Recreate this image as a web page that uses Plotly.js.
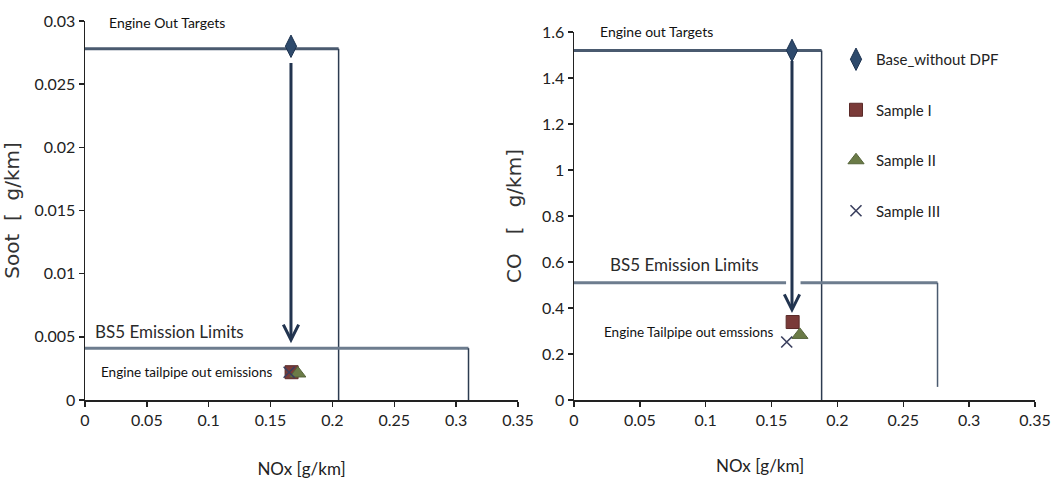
<!DOCTYPE html>
<html>
<head>
<meta charset="utf-8">
<script src="https://cdn.plot.ly/plotly-3.0.1.min.js"></script>
<style>html,body{margin:0;padding:0;background:#fff;}#chart{width:1051px;height:488px;}</style>
</head>
<body>
<div id="chart"></div>
<script>
// ---- data ----
const samples = ['Base_without DPF', 'Sample I', 'Sample II', 'Sample III'];
const sootNox = [0.1665, 0.167, 0.172, 0.165];
const sootVal = [0.0280, 0.0022, 0.0021, 0.0022];
const coNox = [0.1655, 0.166, 0.1715, 0.1615];
const coVal = [1.52, 0.339, 0.283, 0.252];

const sootTargetX = [0, 0.205, 0.205];
const sootTargetY = [0.0278, 0.0278, 0];
const sootLimitX = [0, 0.31, 0.31];
const sootLimitY = [0.0041, 0.0041, 0];
const coTargetX = [0, 0.188, 0.188];
const coTargetY = [1.52, 1.52, 0];
const coLimitX = [0, 0.161, null, 0.172, 0.276, 0.276];
const coLimitY = [0.51, 0.51, null, 0.51, 0.51, 0.057];

const sootArrowY = [0.0268, 0.0045];
const coArrowY = [1.48, 0.378];

const xTicks = [0, 0.05, 0.1, 0.15, 0.2, 0.25, 0.3, 0.35];
const sootTicks = [0, 0.005, 0.01, 0.015, 0.02, 0.025, 0.03];
const coTicks = [0, 0.2, 0.4, 0.6, 0.8, 1, 1.2, 1.4, 1.6];

// ---- styles ----
const FONT = 'Lato, "Liberation Sans", sans-serif';
const TFONT = '"DejaVu Sans", sans-serif';
const markerStyles = [
  {symbol: 'diamond-tall', size: 16, color: '#2e4a6c', line: {color: '#1d3350', width: 1}},
  {symbol: 'square', size: 13, color: '#7a3a38', line: {color: '#5a2a28', width: 1}},
  {symbol: 'triangle-up', size: 14, color: '#6b7b47', line: {color: '#55643a', width: 1}},
  {symbol: 'x-thin-open', size: 11, color: '#3a3f5e', line: {color: '#3a3f5e', width: 1.6}}
];

function lineTrace(x, y, xa, ya, color, width) {
  return {x: x, y: y, xaxis: xa, yaxis: ya, mode: 'lines', type: 'scatter',
    line: {color: color, width: width}, showlegend: false, hoverinfo: 'skip', connectgaps: false};
}

const traces = [];
// left chart lines
traces.push(lineTrace(sootTargetX.slice(0, 2), sootTargetY.slice(0, 2), 'x', 'y', '#4a5a6f', 3));
traces.push(lineTrace(sootTargetX.slice(1), sootTargetY.slice(1), 'x', 'y', '#2c3b50', 1.5));
traces.push(lineTrace(sootLimitX.slice(0, 2), sootLimitY.slice(0, 2), 'x', 'y', '#6d7c8e', 3));
traces.push(lineTrace(sootLimitX.slice(1), sootLimitY.slice(1), 'x', 'y', '#2c3b50', 1.5));
// right chart lines
traces.push(lineTrace(coTargetX.slice(0, 2), coTargetY.slice(0, 2), 'x2', 'y2', '#4a5a6f', 3));
traces.push(lineTrace(coTargetX.slice(1), coTargetY.slice(1), 'x2', 'y2', '#2c3b50', 1.5));
traces.push(lineTrace(coLimitX.slice(0, 5), coLimitY.slice(0, 5), 'x2', 'y2', '#6d7c8e', 3));
traces.push(lineTrace(coLimitX.slice(4), coLimitY.slice(4), 'x2', 'y2', '#4a5a6f', 1.5));

// markers
samples.forEach((name, i) => {
  const m = markerStyles[i];
  traces.push({x: [sootNox[i]], y: [sootVal[i]], xaxis: 'x', yaxis: 'y', type: 'scatter', mode: 'markers',
    name: name, legendgroup: 'g' + i, showlegend: false,
    marker: {symbol: m.symbol, size: m.size, color: m.color, line: m.line}});
  traces.push({x: [coNox[i]], y: [coVal[i]], xaxis: 'x2', yaxis: 'y2', type: 'scatter', mode: 'markers',
    name: name, legendgroup: 'g' + i, showlegend: true,
    marker: {symbol: m.symbol, size: m.size, color: m.color, line: m.line}});
});

const axisCommon = {
  showgrid: false, zeroline: false, showline: true, linecolor: '#222', linewidth: 1.5,
  ticks: 'outside', ticklen: 5, tickwidth: 1.5, tickcolor: '#222', ticklabeloverflow: 'allow',
  tickfont: {family: FONT, size: 16, color: '#222'}, fixedrange: true
};

function txt(text, x, y, xa, ya, size, anchor, color) {
  return {text: text, x: x, y: y, xref: xa, yref: ya, showarrow: false, xanchor: anchor, yanchor: 'middle',
    font: {family: FONT, size: size, color: color || '#111'}};
}

const annotations = [
  txt('Engine Out Targets', 0.0178, 0.0299, 'x', 'y', 14, 'left'),
  txt('BS5 Emission Limits', 0.0065, 0.00546, 'x', 'y', 17, 'left', '#2a2a2a'),
  txt('Engine tailpipe out emissions', 0.1536, 0.00222, 'x', 'y', 13.5, 'right'),
  txt('Engine out Targets', 0.0182, 1.6, 'x2', 'y2', 14, 'left'),
  txt('BS5 Emission Limits', 0.0258, 0.587, 'x2', 'y2', 17, 'left', '#2a2a2a'),
  txt('Engine Tailpipe out emssions', 0.1526, 0.2957, 'x2', 'y2', 13.5, 'right'),
  {text: 'NOx [g/km]', x: 760 / 1051, y: 1 - 465 / 488, xref: 'paper', yref: 'paper', showarrow: false,
    xanchor: 'center', yanchor: 'middle', font: {family: FONT, size: 17, color: '#222'}},
  // arrows
  {x: sootNox[0], y: sootArrowY[1], ax: sootNox[0], ay: sootArrowY[0], xref: 'x', yref: 'y', axref: 'x', ayref: 'y',
    showarrow: true, arrowhead: 5, arrowsize: 1, arrowwidth: 3, arrowcolor: '#22344f', text: ''},
  {x: coNox[0], y: coArrowY[1], ax: coNox[0], ay: coArrowY[0], xref: 'x2', yref: 'y2', axref: 'x2', ayref: 'y2',
    showarrow: true, arrowhead: 5, arrowsize: 1, arrowwidth: 3, arrowcolor: '#22344f', text: ''}
];

const layout = {
  width: 1051, height: 488,
  margin: {l: 0, r: 0, t: 0, b: 0},
  paper_bgcolor: '#fff', plot_bgcolor: '#fff',
  showlegend: true,
  legend: {x: 836 / 1051, y: 1 - 43 / 488, xanchor: 'left', yanchor: 'top', bgcolor: 'rgba(0,0,0,0)',
    tracegroupgap: 28, traceorder: 'grouped', font: {family: FONT, size: 15, color: '#222'}},
  xaxis: Object.assign({}, axisCommon, {domain: [85 / 1051, 518 / 1051], range: [0, 0.35], tickvals: xTicks,
    anchor: 'y', title: {text: 'NOx [g/km]', font: {family: FONT, size: 17, color: '#222'}, standoff: 35}}),
  yaxis: Object.assign({}, axisCommon, {domain: [1 - 400 / 488, 1 - 21 / 488], range: [0, 0.03], tickvals: sootTicks,
    anchor: 'x', title: {text: 'Soot  [  g/km]', font: {family: TFONT, size: 20, color: '#333'}, standoff: 15}}),
  xaxis2: Object.assign({}, axisCommon, {domain: [574 / 1051, 1035 / 1051], range: [0, 0.35], tickvals: xTicks, anchor: 'y2'}),
  yaxis2: Object.assign({}, axisCommon, {domain: [1 - 400 / 488, 1 - 32 / 488], range: [0, 1.6], tickvals: coTicks,
    anchor: 'x2', title: {text: 'CO   [   g/km]', font: {family: TFONT, size: 20, color: '#333'}, standoff: 15}}),
  annotations: annotations
};

Plotly.newPlot('chart', traces, layout, {displayModeBar: false, staticPlot: true});
</script>
</body>
</html>
